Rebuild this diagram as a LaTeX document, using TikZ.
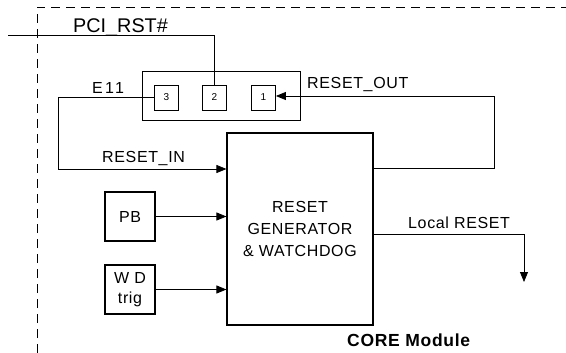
\documentclass[tikz,border=0pt]{standalone}
\usepackage{fontspec}
\setmainfont{Liberation Sans}[LetterSpace=4]
\usetikzlibrary{arrows.meta}
\tikzset{
  lbl/.style={font=\fontsize{16}{19}\selectfont, inner sep=0pt, anchor=base west},
  blk/.style={draw, line width=1.1pt, inner sep=0pt},
  pin/.style={draw, line width=0.8pt, inner sep=0pt, minimum width=24pt, minimum height=25pt, font=\fontsize{10}{12}\selectfont},
  wire/.style={line width=0.8pt},
  arr/.style={wire, -{Triangle[length=10pt,width=8pt]}},
  frame/.style={line width=0.8pt, dash pattern=on 9pt off 6pt}
}
\begin{document}
\begin{tikzpicture}[x=1pt,y=-1pt]
\useasboundingbox (0,0) rectangle (566,353);
% module frame
\coordinate (fb) at (37,353);
\coordinate (fc) at (37,7);
\coordinate (fr) at (566,7);
\draw[frame] (fb) -- (fc) -- (fr);
% jumper block
\node[draw, line width=0.8pt, minimum width=158pt, minimum height=49pt, inner sep=0pt] (jmp) at (221,95.5) {};
\node[pin] (p3) at (166.5,97.5) {3};
\node[pin] (p2) at (214.5,97.5) {2};
\node[pin] (p1) at (263.5,97.5) {1};
% main block
\node[blk, minimum width=146pt, minimum height=192pt, align=center,
      font=\fontsize{16}{21.7}\selectfont] (main) at (300,229) {RESET\\GENERATOR\\\& WATCHDOG};
\node[blk, minimum width=50pt, minimum height=49pt, font=\fontsize{16}{19}\selectfont] (pb) at (130,216.5) {PB};
\node[blk, minimum width=50pt, minimum height=49pt, align=center, font=\fontsize{16}{20}\selectfont] (wd) at (130,289.5) {W D\\trig};
% labels
\node[lbl, font=\fontsize{19.8}{22}\selectfont\addfontfeature{LetterSpace=0}] (lpci) at (73,32.8) {PCI\_RST\#};
\node[lbl, font=\fontsize{16}{19}\selectfont\addfontfeature{LetterSpace=14}] (le11) at (92,94) {E11};
\node[lbl] (lout) at (307,89) {RESET\_OUT};
\node[lbl] (lin) at (102,162.3) {RESET\_IN};
\node[lbl] (lloc) at (408,228.5) {Local RESET};
\node[lbl, font=\fontsize{17.5}{20}\selectfont\bfseries] (lcore) at (347,346) {CORE Module};
% connectors
\coordinate (pcis) at (8,35);
\draw[wire] (pcis) -- (p2.north |- pcis) -- (p2.north);
\draw[arr] (p3.west) -- (58,97.5) -- (58,169) -- (main.west |- 0,169);
\draw[arr] (main.east |- 0,168) -- (494,168) -- (494,96) -- (p1.east |- 0,96);
\draw[arr] (pb.east) -- (main.west |- pb.east);
\draw[arr] (wd.east) -- (main.west |- wd.east);
\coordinate (locend) at (524,282);
\draw[arr] (main.east |- 0,234) -- (locend |- 0,234) -- (locend);
\end{tikzpicture}
\end{document}
